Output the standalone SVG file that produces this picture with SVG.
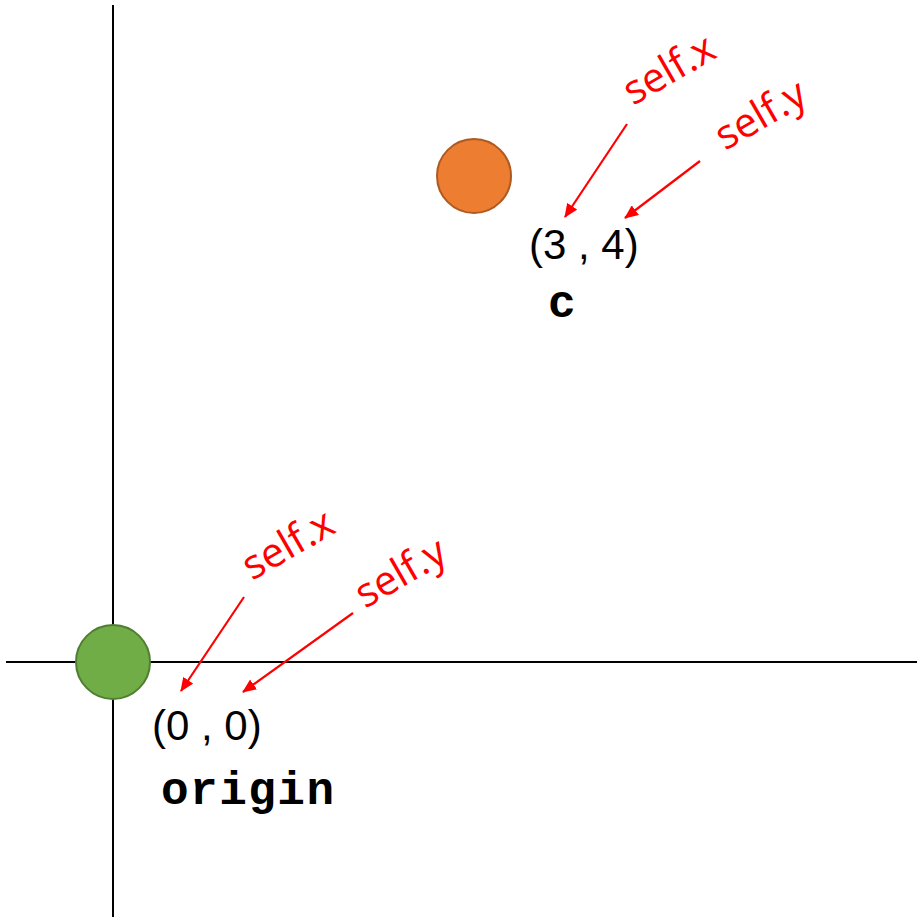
<svg xmlns="http://www.w3.org/2000/svg" width="918" height="917" viewBox="0 0 918 917">
<defs>
<marker id="ah" markerWidth="14" markerHeight="12" refX="13" refY="6" orient="auto" markerUnits="userSpaceOnUse" viewBox="0 0 14 12">
<path d="M0,0 L14,6 L0,12 z" fill="#ff0000"/>
</marker>
<style>
.axis{stroke:#000;stroke-width:2;fill:none}
.arr{stroke:#ff0000;stroke-width:2.2;fill:none}
.lbl{font-family:"Liberation Sans","Noto Sans",sans-serif;font-size:42px;fill:#000}
.red{font-family:"Open Sans","Liberation Sans",sans-serif;font-size:41px;fill:#ff0000}
.mono{font-family:"Liberation Mono","Courier New",monospace;font-weight:bold;font-size:46px;fill:#000}
</style>
</defs>
<rect width="918" height="917" fill="#fff"/>
<g id="axes">
<line class="axis" x1="113" y1="5" x2="113" y2="917"/>
<line class="axis" x1="6" y1="662" x2="917" y2="662"/>
</g>
<g id="origin">
<circle cx="113" cy="662" r="37" fill="#70ad47" stroke="#507e32" stroke-width="2"/>
<text class="lbl" x="152" y="740">(0 , 0)</text>
<text class="mono" x="161" y="804" textLength="173" lengthAdjust="spacing">origin</text>
</g>
<g id="c">
<circle cx="474" cy="176" r="37" fill="#ed7d31" stroke="#ae5a21" stroke-width="2"/>
<text class="lbl" x="529" y="259">(3 , 4)</text>
<text class="mono" x="548" y="317">c</text>
</g>
<g id="labels">
<text class="red" transform="translate(633,106) rotate(-30)">self.x</text>
<text class="red" transform="translate(725,151) rotate(-30)">self.y</text>
<text class="red" transform="translate(252,581) rotate(-30)">self.x</text>
<text class="red" transform="translate(365,609) rotate(-30)">self.y</text>
</g>
<g id="connectors">
<line class="arr" x1="627" y1="124" x2="565" y2="217" marker-end="url(#ah)"/>
<line class="arr" x1="700" y1="161" x2="625" y2="218" marker-end="url(#ah)"/>
<line class="arr" x1="244" y1="597" x2="181" y2="691" marker-end="url(#ah)"/>
<line class="arr" x1="353" y1="613" x2="243" y2="692" marker-end="url(#ah)"/>
</g>
</svg>
